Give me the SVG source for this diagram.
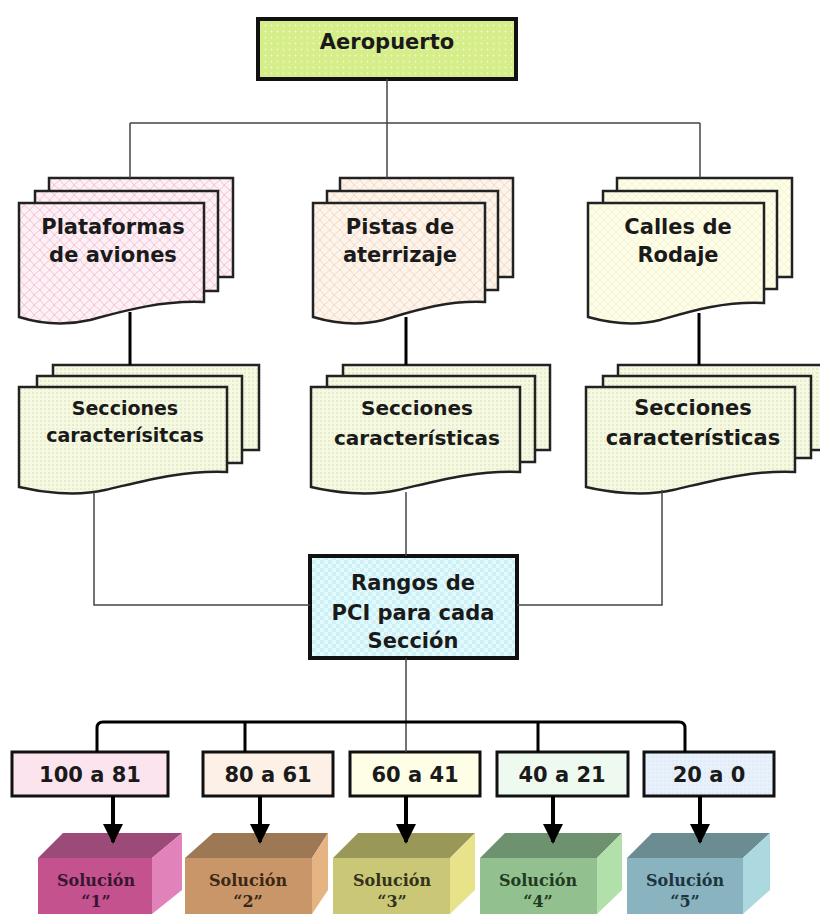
<svg xmlns="http://www.w3.org/2000/svg" width="820" height="914" viewBox="0 0 820 914">
<defs>
  <pattern id="pGreen" width="6" height="6" patternUnits="userSpaceOnUse">
    <rect width="6" height="6" fill="#d6ee8a"/>
    <circle cx="1.5" cy="1.5" r="0.9" fill="#eef9c8"/>
  </pattern>
  <pattern id="pPink" width="10" height="10" patternUnits="userSpaceOnUse">
    <rect width="10" height="10" fill="#fdf1f6"/>
    <path d="M0,10 Q5,3 10,0 M0,0 Q5,7 10,10" fill="none" stroke="#f2bcd4" stroke-width="0.9"/>
  </pattern>
  <pattern id="pPeach" width="10" height="10" patternUnits="userSpaceOnUse">
    <rect width="10" height="10" fill="#fdf4ec"/>
    <path d="M0,10 Q5,3 10,0 M0,0 Q5,7 10,10" fill="none" stroke="#f0d6c0" stroke-width="0.9"/>
  </pattern>
  <pattern id="pYellow" width="8" height="8" patternUnits="userSpaceOnUse">
    <rect width="8" height="8" fill="#fdfde8"/>
    <path d="M0,8 L8,0 M0,0 L8,8" fill="none" stroke="#f1f1cf" stroke-width="0.8"/>
  </pattern>
  <pattern id="pSec" width="4" height="4" patternUnits="userSpaceOnUse">
    <rect width="4" height="4" fill="#f6f9e2"/>
    <circle cx="1" cy="1" r="0.7" fill="#cdd8a6"/>
  </pattern>
  <pattern id="pCyan" width="8" height="8" patternUnits="userSpaceOnUse">
    <rect width="8" height="8" fill="#e3fafd"/>
    <rect width="4" height="4" fill="#cdf1f6"/>
    <rect x="4" y="4" width="4" height="4" fill="#cdf1f6"/>
  </pattern>
  <pattern id="pBlue" width="4" height="4" patternUnits="userSpaceOnUse">
    <rect width="4" height="4" fill="#e8f1fb"/>
    <circle cx="1" cy="1" r="0.6" fill="#c6d8ee"/>
  </pattern>
  <marker id="arr" viewBox="0 0 10 10" refX="9" refY="5" markerWidth="5" markerHeight="5" orient="auto" markerUnits="strokeWidth">
    <path d="M0,0 L10,5 L0,10 Z" fill="#000"/>
  </marker>
  <style>
    .box{stroke:#111;stroke-width:4}
    .rng{stroke:#111;stroke-width:3}
    .doc{stroke:#222;stroke-width:2.5}
    .t{font-family:"DejaVu Sans",Verdana,sans-serif;font-weight:bold;fill:#1a1a1a;text-anchor:middle}
    .s{font-family:"DejaVu Serif","Liberation Serif",serif;font-weight:bold;font-size:16px;text-anchor:middle}
    .thin{stroke:#444;stroke-width:1.5;fill:none}
    .thick{stroke:#000;stroke-width:3;fill:none}
    .arrow{stroke:#000;stroke-width:4;fill:none}
  </style>
</defs>
<rect width="820" height="914" fill="#fff"/>

<g id="aeropuerto">
  <rect x="258" y="19" width="258" height="60" fill="url(#pGreen)" class="box"/>
  <text x="387" y="49" class="t" font-size="21">Aeropuerto</text>
</g>

<g id="plataformas">
  <rect x="49" y="178" width="184" height="99" fill="url(#pPink)" class="doc"/>
  <rect x="35" y="191" width="183" height="100" fill="url(#pPink)" class="doc"/>
  <path d="M19,203 H204 V302 C160,300 120,312 90,320 C60,327 35,322 19,317 Z" fill="url(#pPink)" class="doc"/>
  <text x="113" y="234" class="t" font-size="21">Plataformas</text>
  <text x="113" y="262" class="t" font-size="21">de aviones</text>
</g>

<g id="pistas">
  <rect x="340" y="178" width="173" height="99" fill="url(#pPeach)" class="doc"/>
  <rect x="327" y="191" width="171" height="99" fill="url(#pPeach)" class="doc"/>
  <path d="M313,203 H485 V302 C445,300 410,312 383,320 C355,327 330,322 313,317 Z" fill="url(#pPeach)" class="doc"/>
  <text x="400" y="234" class="t" font-size="21">Pistas de</text>
  <text x="400" y="262" class="t" font-size="21">aterrizaje</text>
</g>

<g id="calles">
  <rect x="617" y="178" width="175" height="99" fill="url(#pYellow)" class="doc"/>
  <rect x="603" y="191" width="174" height="98" fill="url(#pYellow)" class="doc"/>
  <path d="M588,203 H764 V303 C722,301 688,312 660,320 C632,327 606,322 588,317 Z" fill="url(#pYellow)" class="doc"/>
  <text x="678" y="234" class="t" font-size="21">Calles de</text>
  <text x="678" y="262" class="t" font-size="21">Rodaje</text>
</g>

<g id="secciones1">
  <rect x="53" y="365" width="206" height="85" fill="url(#pSec)" class="doc"/>
  <rect x="37" y="376" width="205" height="87" fill="url(#pSec)" class="doc"/>
  <path d="M19,387 H227 V472 C180,470 140,482 105,490 C75,497 40,492 19,487 Z" fill="url(#pSec)" class="doc"/>
  <text x="125" y="415" class="t" font-size="19">Secciones</text>
  <text x="125" y="442" class="t" font-size="19">caracterísitcas</text>
</g>

<g id="secciones2">
  <rect x="343" y="365" width="207" height="85" fill="url(#pSec)" class="doc"/>
  <rect x="327" y="376" width="208" height="86" fill="url(#pSec)" class="doc"/>
  <path d="M311,387 H520 V472 C473,470 433,482 398,490 C368,497 332,492 311,487 Z" fill="url(#pSec)" class="doc"/>
  <text x="417" y="415" class="t" font-size="20">Secciones</text>
  <text x="417" y="445" class="t" font-size="20">características</text>
</g>

<g id="secciones3">
  <rect x="618" y="365" width="208" height="85" fill="url(#pSec)" class="doc"/>
  <rect x="603" y="376" width="208" height="82" fill="url(#pSec)" class="doc"/>
  <path d="M586,387 H795 V472 C748,470 708,482 673,490 C643,497 607,492 586,487 Z" fill="url(#pSec)" class="doc"/>
  <text x="693" y="415" class="t" font-size="21">Secciones</text>
  <text x="693" y="445" class="t" font-size="21">características</text>
</g>

<g id="pci">
  <rect x="310" y="556" width="207" height="102" fill="url(#pCyan)" class="box"/>
  <text x="413" y="590" class="t" font-size="21">Rangos de</text>
  <text x="413" y="620" class="t" font-size="21">PCI para cada</text>
  <text x="413" y="648" class="t" font-size="21">Sección</text>
</g>

<g id="r1">
  <rect x="12" y="752" width="156" height="44" fill="#fce4ef" class="rng"/>
  <text x="90" y="782" class="t" font-size="21">100 a 81</text>
</g>
<g id="r2">
  <rect x="203" y="752" width="130" height="44" fill="#fdf0e6" class="rng"/>
  <text x="268" y="782" class="t" font-size="21">80 a 61</text>
</g>
<g id="r3">
  <rect x="350" y="752" width="130" height="44" fill="#fefde6" class="rng"/>
  <text x="415" y="782" class="t" font-size="21">60 a 41</text>
</g>
<g id="r4">
  <rect x="497" y="752" width="131" height="44" fill="#eefaf0" class="rng"/>
  <text x="562" y="782" class="t" font-size="21">40 a 21</text>
</g>
<g id="r5">
  <rect x="644" y="752" width="130" height="44" fill="url(#pBlue)" class="rng"/>
  <text x="709" y="782" class="t" font-size="21">20 a 0</text>
</g>

<g id="sol1">
  <polygon points="38,858 63,833 182,833 152,858" fill="#9c4a78"/>
  <polygon points="152,858 182,833 182,890 152,914" fill="#e282bb"/>
  <rect x="38" y="858" width="114" height="56" fill="#c3528f"/>
  <text x="96" y="886" class="s" fill="#3a1530">Solución</text>
  <text x="96" y="907" class="s" fill="#3a1530">“1”</text>
</g>
<g id="sol2">
  <polygon points="185,858 213,833 328,833 312,858" fill="#9c7855"/>
  <polygon points="312,858 328,833 328,890 312,914" fill="#e6b482"/>
  <rect x="185" y="858" width="127" height="56" fill="#c9966a"/>
  <text x="248" y="886" class="s" fill="#3a2814">Solución</text>
  <text x="248" y="907" class="s" fill="#3a2814">“2”</text>
</g>
<g id="sol3">
  <polygon points="333,858 358,833 475,833 450,858" fill="#999858"/>
  <polygon points="450,858 475,833 475,890 450,914" fill="#e8e28a"/>
  <rect x="333" y="858" width="117" height="56" fill="#cac877"/>
  <text x="392" y="886" class="s" fill="#33321a">Solución</text>
  <text x="392" y="907" class="s" fill="#33321a">“3”</text>
</g>
<g id="sol4">
  <polygon points="480,858 505,833 622,833 597,858" fill="#6e9170"/>
  <polygon points="597,858 622,833 622,890 597,914" fill="#b2e0aa"/>
  <rect x="480" y="858" width="117" height="56" fill="#93c08f"/>
  <text x="538" y="886" class="s" fill="#1f3a20">Solución</text>
  <text x="538" y="907" class="s" fill="#1f3a20">“4”</text>
</g>
<g id="sol5">
  <polygon points="627,858 652,833 770,833 743,858" fill="#6b8d92"/>
  <polygon points="743,858 770,833 770,890 743,914" fill="#acd8e0"/>
  <rect x="627" y="858" width="116" height="56" fill="#89b3be"/>
  <text x="685" y="886" class="s" fill="#1c3340">Solución</text>
  <text x="685" y="907" class="s" fill="#1c3340">“5”</text>
</g>

<g id="connectors">
  <path class="thin" d="M387,79 V123 M130,123 H700 M130,123 V178 M387,123 V178 M700,123 V178"/>
  <path class="thick" d="M130,312 V365 M406,317 V365 M699,313 V365"/>
  <path class="thin" d="M94,492 V605 H310 M406,492 V556 M662,490 V605 H517"/>
  <path class="thin" d="M406,658 V752"/>
  <path class="thick" d="M97,752 V728 Q97,722 103,722 H679 Q685,722 685,728 V752 M245,722 V752 M538,722 V752"/>
  <path class="arrow" d="M113,796 V842" marker-end="url(#arr)"/>
  <path class="arrow" d="M260,796 V842" marker-end="url(#arr)"/>
  <path class="arrow" d="M406,796 V842" marker-end="url(#arr)"/>
  <path class="arrow" d="M553,796 V842" marker-end="url(#arr)"/>
  <path class="arrow" d="M700,796 V842" marker-end="url(#arr)"/>
</g>
</svg>
